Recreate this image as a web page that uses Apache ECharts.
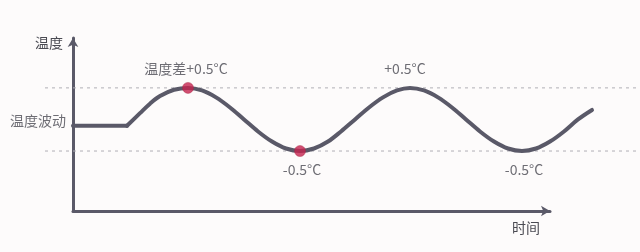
<!DOCTYPE html>
<html><head><meta charset="utf-8">
<script src="https://cdn.jsdelivr.net/npm/echarts@6/dist/echarts.min.js"></script>
<style>html,body{margin:0;padding:0;background:#fdfbfb}#c{width:640px;height:252px}</style>
</head><body><div id="c"></div>
<script>
// ---- data ----
const flatTime = [0, 54];
const flatTemp = [-0.1, -0.1];
const waveTime = [54, 67, 77, 87, 101, 115, 129, 143, 157, 171, 185, 199, 213, 227, 241, 255, 268, 282, 296, 310, 324, 337, 351, 365, 379, 393, 407, 421, 435, 449, 463, 477, 491, 505, 519];
const waveTemp = [-0.1, 0.1, 0.25, 0.37, 0.47, 0.5, 0.46, 0.35, 0.19, 0, -0.19, -0.35, -0.46, -0.5, -0.46, -0.35, -0.19, 0, 0.19, 0.35, 0.46, 0.5, 0.46, 0.35, 0.19, 0, -0.19, -0.35, -0.46, -0.5, -0.46, -0.35, -0.19, 0, 0.15];
const dotTime = [115, 227];
const dotTemp = [0.5, -0.5];
const bandLevels = [0.5, -0.5];
const noteTime = [115, 227, 337, 449];
const noteTemp = [0.5, -0.5, 0.5, -0.5];
const noteText = ['温度差+0.5°C', '-0.5°C', '+0.5°C', '-0.5°C'];
const baseText = '温度波动';
const yName = '温度';
const xName = '时间';
const yMin = -1.45, yMax = 1.29;
const xMin = 0, xMax = 477;          // drawn time axis
const viewMin = -28, viewMax = 567;  // full-width plotting range

// ---- chart ----
const FONT = '"Noto Sans CJK SC", "Noto Sans", sans-serif';
const TXT = '#4a4a52';
const LINE = '#5a5968';
const zip = (a, b) => a.map((v, i) => [v, b[i]]);
const P = { xAxisIndex: 1, yAxisIndex: 1 };

const series = [];
bandLevels.forEach(l => series.push(Object.assign({
  type: 'line', silent: true, symbol: 'none', z: 1,
  data: [[viewMin, l], [viewMax, l]],
  lineStyle: { color: '#b0afb5', width: 1, type: [3, 4] }
}, P)));
series.push(Object.assign({
  type: 'line', data: zip(flatTime, flatTemp), symbol: 'none', z: 3,
  lineStyle: { color: LINE, width: 4, cap: 'round', join: 'round' }
}, P));
series.push(Object.assign({
  type: 'line', data: zip(waveTime, waveTemp), symbol: 'none', smooth: 0.35, z: 3,
  lineStyle: { color: LINE, width: 4, cap: 'round', join: 'round' }
}, P));
series.push(Object.assign({
  type: 'scatter', data: zip(dotTime, dotTemp), symbolSize: 11, z: 5,
  itemStyle: { color: '#c4234f', borderColor: '#a8203f', borderWidth: 0.5 }
}, P));
series.push(Object.assign({
  type: 'scatter', symbolSize: 0, z: 6,
  data: noteTime.map((t, i) => ({
    value: [t, noteTemp[i]],
    label: {
      show: true, formatter: noteText[i],
      position: noteTemp[i] > 0 ? 'top' : 'bottom', distance: 12,
      offset: i === 2 ? [-5, 0] : (i === 0 ? [-2, 0] : [2, 0]),
      color: TXT, fontSize: 14, fontFamily: FONT
    }
  }))
}, P));
series.push(Object.assign({
  type: 'scatter', symbolSize: 0, z: 6,
  data: [{
    value: [flatTime[0], flatTemp[0]],
    label: { show: true, formatter: baseText, position: 'left', distance: 7, offset: [0, -5],
      color: TXT, fontSize: 14, fontFamily: FONT }
  }]
}, P));

const chart = echarts.init(document.getElementById('c'));
chart.setOption({
  animation: false,
  backgroundColor: '#fdfbfb',
  grid: [
    { left: 73, right: 90, top: 38, bottom: 41 },
    { left: 45, right: 0, top: 38, bottom: 41 }
  ],
  xAxis: [
    { type: 'value', gridIndex: 0, min: xMin, max: xMax,
      name: xName, nameLocation: 'end', nameGap: -10,
      nameTextStyle: { align: 'right', verticalAlign: 'top', padding: [10, 0, 0, 0], color: TXT, fontSize: 14, fontFamily: FONT },
      axisLine: { show: true, onZero: false, symbol: ['none', 'arrow'], symbolSize: [8, 9], lineStyle: { color: LINE, width: 3 } },
      axisTick: { show: false }, axisLabel: { show: false }, splitLine: { show: false } },
    { type: 'value', gridIndex: 1, min: viewMin, max: viewMax, show: false }
  ],
  yAxis: [
    { type: 'value', gridIndex: 0, min: yMin, max: yMax,
      name: yName, nameLocation: 'end', nameGap: -5,
      nameTextStyle: { align: 'right', verticalAlign: 'middle', padding: [0, 10, 0, 0], color: TXT, fontSize: 14, fontFamily: FONT },
      axisLine: { show: true, onZero: false, symbol: ['none', 'arrow'], symbolSize: [8, 9], lineStyle: { color: LINE, width: 3 } },
      axisTick: { show: false }, axisLabel: { show: false }, splitLine: { show: false } },
    { type: 'value', gridIndex: 1, min: yMin, max: yMax, show: false }
  ],
  series: series
});
</script></body></html>
